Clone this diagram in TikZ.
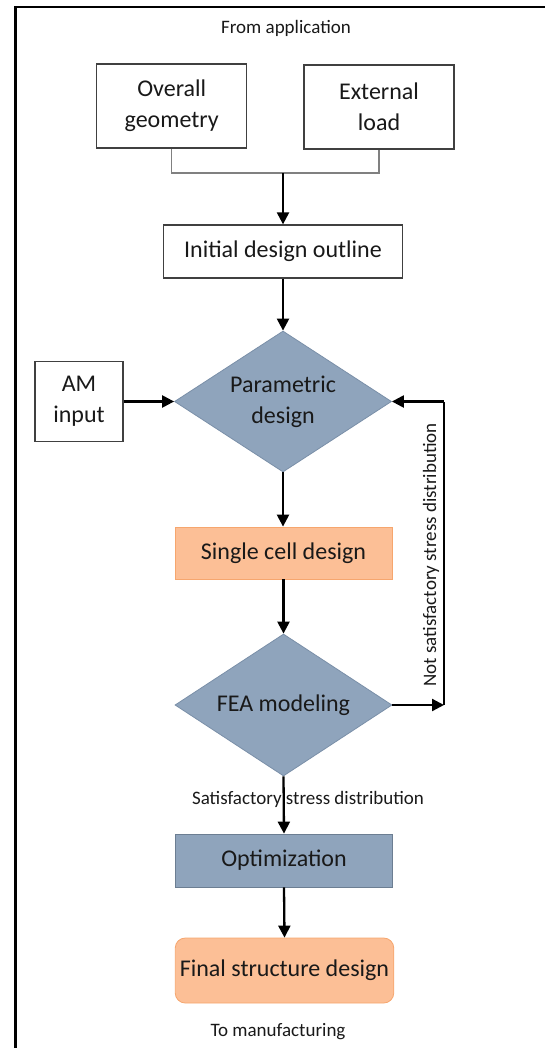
\documentclass[tikz,border=0pt]{standalone}
\usepackage{fontspec}
\setmainfont{Carlito}
\usetikzlibrary{shapes.geometric,arrows.meta}
\definecolor{slate}{HTML}{8FA4BC}
\definecolor{slateedge}{HTML}{7A8FA8}
\definecolor{optedge}{HTML}{6C7E92}
\definecolor{peach}{HTML}{FCBF96}
\definecolor{peachedge}{HTML}{F6A66E}
\definecolor{boxedge}{HTML}{404040}
\begin{document}
\begin{tikzpicture}[x=1pt,y=-1pt,
  big/.style={font=\fontsize{24}{31}\selectfont, text=black!90},
  small/.style={font=\fontsize{19}{23}\selectfont, text=black!90},
  wbox/.style={big, draw=boxedge, line width=1.3pt, fill=white, inner sep=0pt, align=center},
  dia/.style={big, diamond, draw=slateedge, line width=0.8pt, fill=slate, inner sep=-30pt, align=center},
  arr/.style={line width=2.3pt, -{Triangle[length=12pt,width=12pt]}},
  thinline/.style={line width=1.3pt}
]
\useasboundingbox (0,0) rectangle (545,1048);
\draw[line width=2.5pt] (15.5,1048) -- (15.5,7) -- (545,7);

\node[small] (from) at (286,28) {From application};
\node[wbox, minimum width=150pt, minimum height=84pt] (og) at (171.7,106) {Overall\\geometry};
\node[wbox, minimum width=150pt, minimum height=84pt] (el) at (379,107) {External\\load};
\node[wbox, minimum width=239pt, minimum height=53pt] (ido) at (283,251.5) {Initial design outline};
\node[dia, minimum width=217pt, minimum height=141pt] (pd) at (283,401.5) {Parametric\\design};
\node[wbox, minimum width=88pt, minimum height=80pt] (am) at (79,401.5) {AM\\input};
\node[big, draw=peachedge, line width=0.8pt, fill=peach, inner sep=0pt, minimum width=217pt, minimum height=52pt] (scd) at (283.5,553) {Single cell design};
\node[dia, minimum width=217pt, minimum height=142pt] (fea) at (283.5,705) {FEA modeling};
\node[big, draw=optedge, line width=0.8pt, fill=slate, inner sep=0pt, minimum width=217.5pt, minimum height=53pt] (opt) at (284,860.5) {Optimization};
\node[big, draw=peachedge, line width=0.8pt, fill=peach, inner sep=0pt, rounded corners=10pt, minimum width=218.5pt, minimum height=65pt] (fsd) at (284.5,970.5) {Final structure design};
\node[small] (tm) at (278,1032) {To manufacturing};

\coordinate (join) at (283,173);
\draw[gray, line width=1.3pt] (og.south) |- (join) -| (el.south);
\draw[arr] (join) -- (ido.north);
\draw[arr] (ido.south) -- (pd.north);
\draw[arr] (am.east) -- (pd.west);
\draw[arr] (pd.south) -- (pd.south |- scd.north);
\draw[arr] (scd.south) -- (fea.north);
\draw[arr] (fea.south) -- (opt.north);
\draw[arr] (opt.south) -- (fsd.north);

\coordinate (c1) at (444,705);
\coordinate (c2) at (444,401.5);
\draw[arr] (fea.east) -- (c1);
\draw[thinline] (c1) -- (c2);
\draw[arr] (c2) -- (pd.east);

\node[small] (sat) at (308,799) {Satisfactory stress distribution};
\node[small, rotate=90] (nsat) at (431,555) {Not satisfactory stress distribution};
\end{tikzpicture}
\end{document}
